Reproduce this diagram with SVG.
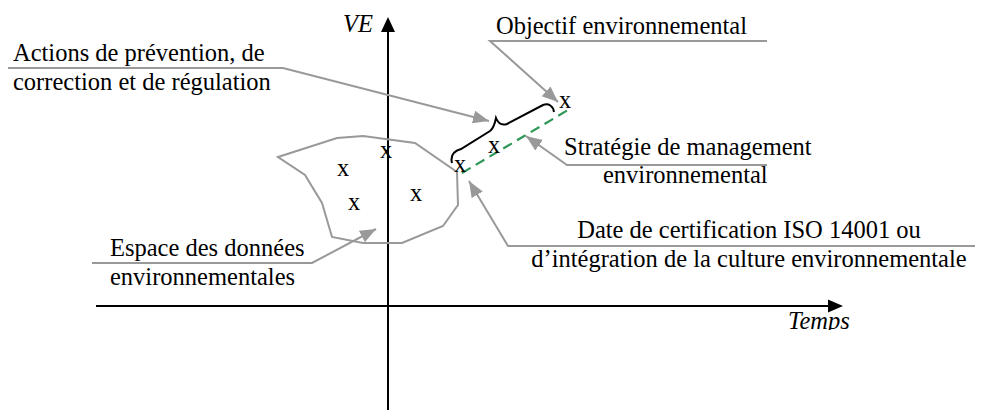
<svg xmlns="http://www.w3.org/2000/svg" width="984" height="410" viewBox="0 0 984 410">
<style>
text{font-family:"Liberation Serif","Times New Roman",serif;font-size:24.5px;fill:#000}
.it{font-style:italic}
.lead{fill:none;stroke:#999;stroke-width:2}
.axis{fill:none;stroke:#000;stroke-width:2}
.poly{fill:none;stroke:#999;stroke-width:2}
</style>
<defs>
<marker id="ga" markerUnits="userSpaceOnUse" markerWidth="18" markerHeight="14" refX="16" refY="6.5" orient="auto">
<path d="M0,0 L16,6.5 L0,13 z" fill="#999"/>
</marker>
<clipPath id="clipT"><rect x="700" y="300" width="200" height="30"/></clipPath>
</defs>
<rect width="984" height="410" fill="#fff"/>
<g id="axes">
<line class="axis" x1="388" y1="30" x2="388" y2="410"/>
<path d="M388,17 L395,32 L381,32 z" fill="#000"/>
<line class="axis" x1="96" y1="306" x2="830" y2="306"/>
<path d="M843,306 L828,299.5 L828,312.5 z" fill="#000"/>
<text class="it" x="343" y="32" font-size="23">VE</text>
<text class="it" x="788" y="329" font-size="24" clip-path="url(#clipT)">Temps</text>
</g>
<g id="espace">
<polygon class="poly" points="278,157 337,138 363,136 415,143 457,172 458,205 443,226 402,243 363,243 332,237 322,203 305,175"/>
<text x="337" y="176">x</text>
<text x="348" y="210">x</text>
<text x="380" y="158">x</text>
<text x="410" y="201">x</text>
</g>
<g id="trajectoire">
<line x1="462" y1="173" x2="568" y2="110" stroke="#2e9656" stroke-width="2.2" stroke-dasharray="10,6"/>
<path d="M452,163 C450,155 454,151 461,149 L490,131 C494,128 495,123 496,118 C498,123 501,126 507,124 L543,105 C549,103 553,106 554,112" fill="none" stroke="#000" stroke-width="2"/>
<text x="454" y="172">x</text>
<text x="488" y="153">x</text>
<text x="559" y="108">x</text>
</g>
<g id="label-actions">
<text x="13" y="61">Actions de prévention, de</text>
<text x="13" y="90">correction et de régulation</text>
</g>
<g id="label-objectif">
<text x="496" y="34">Objectif environnemental</text>
</g>
<g id="label-strategie">
<text x="564" y="155">Stratégie de management</text>
<text x="603" y="183">environnemental</text>
</g>
<g id="label-date">
<text x="749" y="238" text-anchor="middle">Date de certification ISO 14001 ou</text>
<text x="749" y="267" text-anchor="middle">d’intégration de la culture environnementale</text>
</g>
<g id="label-espace">
<text x="110" y="256">Espace des données</text>
<text x="110" y="285">environnementales</text>
</g>
<g id="connectors">
<polyline class="lead" points="8,68 283,68 489,121" marker-end="url(#ga)"/>
<polyline class="lead" points="767,41 490,41 558,102" marker-end="url(#ga)"/>
<polyline class="lead" points="767,165 567,165 526,136" marker-end="url(#ga)"/>
<polyline class="lead" points="975,246 508,246 469,181" marker-end="url(#ga)"/>
<polyline class="lead" points="92,263 312,263 376,229" marker-end="url(#ga)"/>
</g>
</svg>
